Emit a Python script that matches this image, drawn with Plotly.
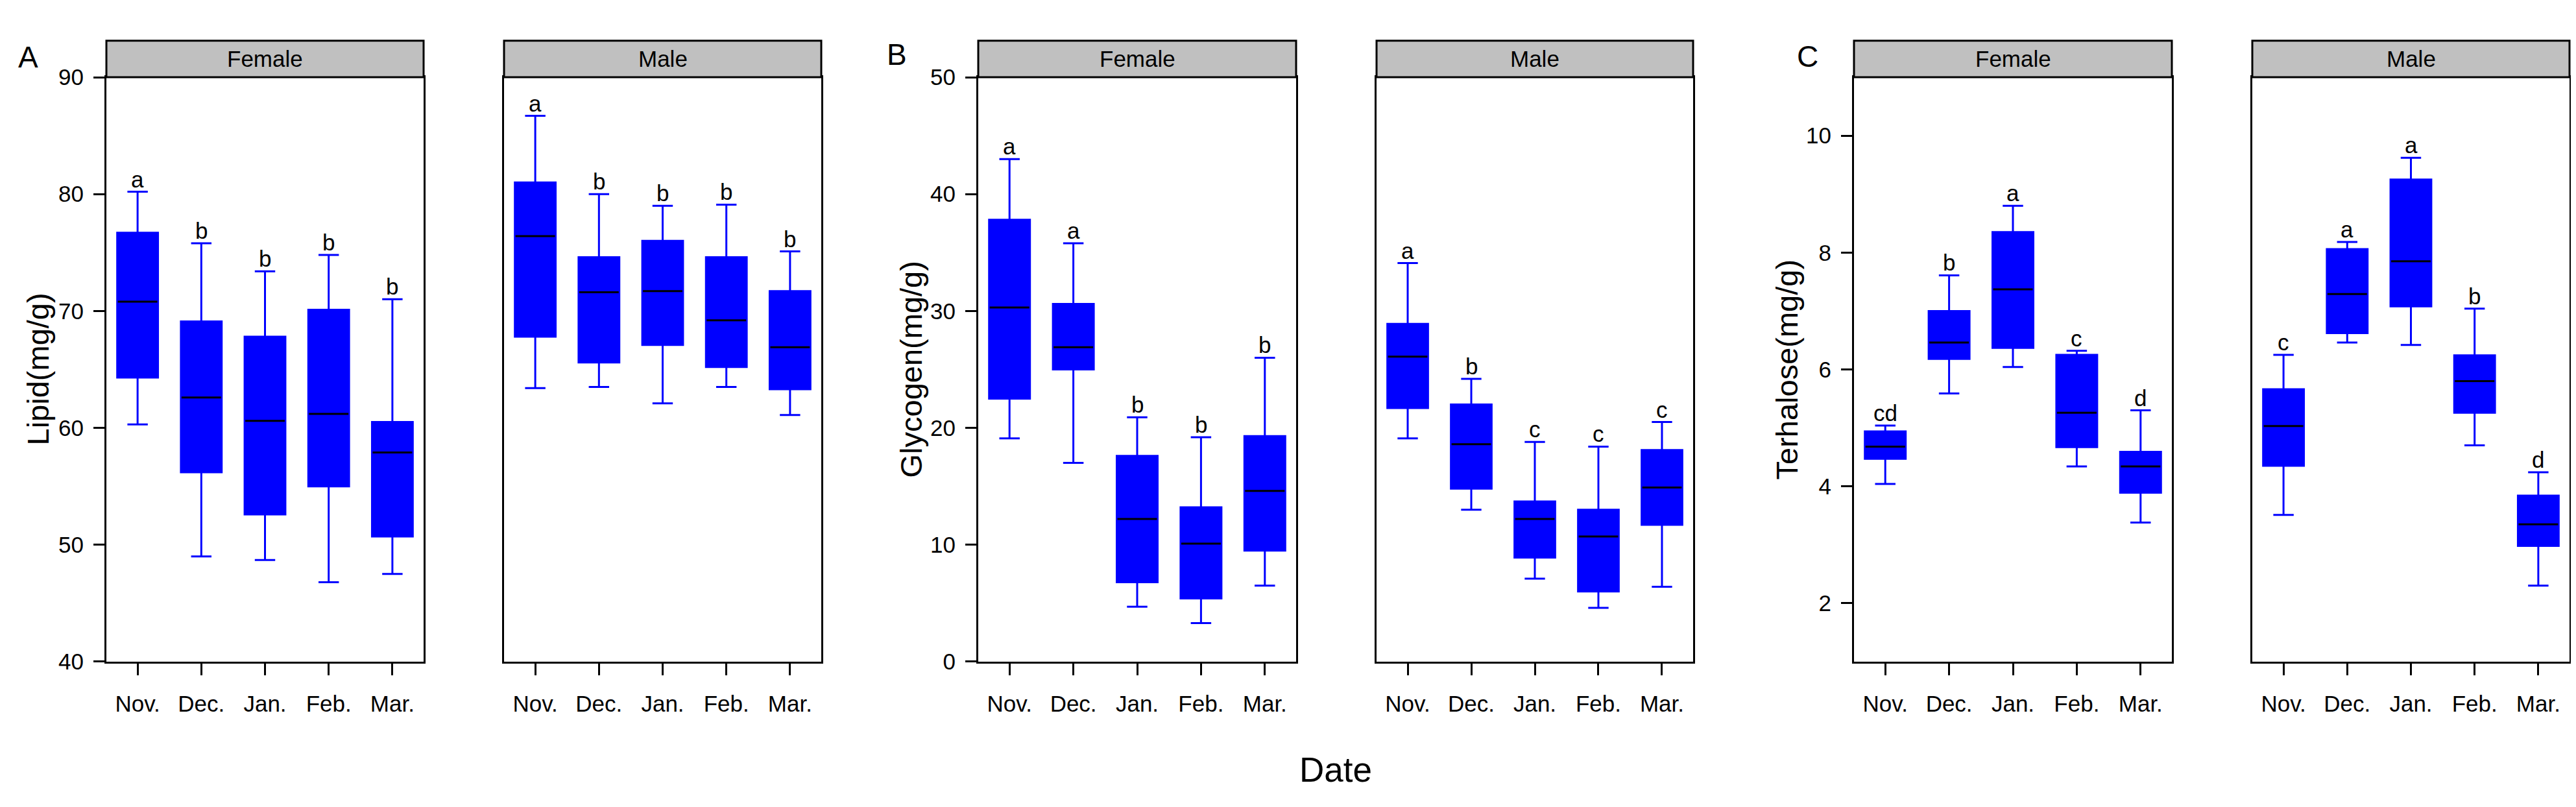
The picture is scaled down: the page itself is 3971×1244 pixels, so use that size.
import plotly.graph_objects as go

W, H = 3971, 1244
months = ["Nov.", "Dec.", "Jan.", "Feb.", "Mar."]

# ---------------- data ----------------
# A: Lipid (mg/g)
lip_f_low = [60.3, 49.0, 48.7, 46.8, 47.5]
lip_f_q1 = [64.3, 56.2, 52.6, 55.0, 50.7]
lip_f_med = [70.8, 62.6, 60.6, 61.2, 57.9]
lip_f_q3 = [76.7, 69.1, 67.8, 70.1, 60.5]
lip_f_high = [80.2, 75.8, 73.4, 74.8, 71.0]
lip_f_let = ["a", "b", "b", "b", "b"]

lip_m_low = [63.4, 63.5, 62.1, 63.5, 61.1]
lip_m_q1 = [67.8, 65.6, 67.1, 65.2, 63.3]
lip_m_med = [76.4, 71.6, 71.7, 69.2, 66.9]
lip_m_q3 = [81.0, 74.6, 76.0, 74.6, 71.7]
lip_m_high = [86.7, 80.0, 79.0, 79.1, 75.1]
lip_m_let = ["a", "b", "b", "b", "b"]

# B: Glycogen (mg/g)
gly_f_low = [19.1, 17.0, 4.7, 3.3, 6.5]
gly_f_q1 = [22.5, 25.0, 6.8, 5.4, 9.5]
gly_f_med = [30.3, 26.9, 12.2, 10.1, 14.6]
gly_f_q3 = [37.8, 30.6, 17.6, 13.2, 19.3]
gly_f_high = [43.0, 35.8, 20.9, 19.2, 26.0]
gly_f_let = ["a", "a", "b", "b", "b"]

gly_m_low = [19.1, 13.0, 7.1, 4.6, 6.4]
gly_m_q1 = [21.7, 14.8, 8.9, 6.0, 11.7]
gly_m_med = [26.1, 18.6, 12.2, 10.7, 14.9]
gly_m_q3 = [28.9, 22.0, 13.7, 13.0, 18.1]
gly_m_high = [34.1, 24.2, 18.8, 18.4, 20.5]
gly_m_let = ["a", "b", "c", "c", "c"]

# C: Terhalose (mg/g)
tre_f_low = [4.04, 5.59, 6.04, 4.34, 3.38]
tre_f_q1 = [4.47, 6.18, 6.37, 4.67, 3.89]
tre_f_med = [4.68, 6.46, 7.37, 5.26, 4.34]
tre_f_q3 = [4.94, 7.00, 8.35, 6.25, 4.59]
tre_f_high = [5.04, 7.61, 8.80, 6.32, 5.30]
tre_f_let = ["cd", "b", "a", "c", "d"]

tre_m_low = [3.51, 6.46, 6.42, 4.70, 2.30]
tre_m_q1 = [4.35, 6.62, 7.08, 5.26, 2.98]
tre_m_med = [5.03, 7.29, 7.85, 5.80, 3.35]
tre_m_q3 = [5.66, 8.06, 9.25, 6.24, 3.84]
tre_m_high = [6.25, 8.18, 9.62, 7.04, 4.24]
tre_m_let = ["c", "a", "a", "b", "d"]

lip_ticks = [40, 50, 60, 70, 80, 90]
gly_ticks = [0, 10, 20, 30, 40, 50]
tre_ticks = [2, 4, 6, 8, 10]

# ---------------- layout / style ----------------
FONT = "Liberation Sans, Arial, sans-serif"
BLUE = "#0000FF"
TOP, BOT = 94, 1024          # plot area (px from top)
STRIP_TOP = 36

panels = [
    dict(x0=156, x1=645, sex="Female", data=(lip_f_low, lip_f_q1, lip_f_med, lip_f_q3, lip_f_high, lip_f_let),
         yr=[40, 90], ticks=lip_ticks, showy=True),
    dict(x0=769, x1=1258, sex="Male", data=(lip_m_low, lip_m_q1, lip_m_med, lip_m_q3, lip_m_high, lip_m_let),
         yr=[40, 90], ticks=lip_ticks, showy=False),
    dict(x0=1500, x1=1990, sex="Female", data=(gly_f_low, gly_f_q1, gly_f_med, gly_f_q3, gly_f_high, gly_f_let),
         yr=[0, 50], ticks=gly_ticks, showy=True),
    dict(x0=2114, x1=2602, sex="Male", data=(gly_m_low, gly_m_q1, gly_m_med, gly_m_q3, gly_m_high, gly_m_let),
         yr=[0, 50], ticks=gly_ticks, showy=False),
    dict(x0=2850, x1=3340, sex="Female", data=(tre_f_low, tre_f_q1, tre_f_med, tre_f_q3, tre_f_high, tre_f_let),
         yr=[1, 11], ticks=tre_ticks, showy=True),
    dict(x0=3464, x1=3953, sex="Male", data=(tre_m_low, tre_m_q1, tre_m_med, tre_m_q3, tre_m_high, tre_m_let),
         yr=[1, 11], ticks=tre_ticks, showy=False),
]

fig = go.Figure()
shapes = []
annotations = []
pos = list(range(len(months)))
BOXW = 0.64

for k, p in enumerate(panels):
    n = "" if k == 0 else str(k + 1)
    xa, ya = "x" + n, "y" + n
    low, q1, med, q3, high, let = p["data"]

    fig.add_trace(go.Box(
        x=pos, q1=q1, median=med, q3=q3, lowerfence=low, upperfence=high,
        xaxis=xa, yaxis=ya, fillcolor=BLUE, line=dict(color=BLUE, width=3),
        width=BOXW, whiskerwidth=0.5, boxpoints=False, showlegend=False,
    ))
    mx, my = [], []
    for i, m in zip(pos, med):
        mx += [i - BOXW / 2 + 0.01, i + BOXW / 2 - 0.01, None]
        my += [m, m, None]
    fig.add_trace(go.Scatter(x=mx, y=my, mode="lines", xaxis=xa, yaxis=ya,
                             line=dict(color="black", width=3), showlegend=False, hoverinfo="skip"))

    for i, t, hv in zip(pos, let, high):
        annotations.append(dict(x=i, y=hv, xref=xa, yref=ya, text=t, showarrow=False,
                                yanchor="bottom", yshift=-2, font=dict(family=FONT, size=35, color="black")))

    xdom = [p["x0"] / W, p["x1"] / W]
    ydom = [1 - BOT / H, 1 - TOP / H]
    fig.layout["xaxis" + n] = dict(
        domain=xdom, anchor=ya, range=[-0.49, 4.49], tickmode="array", tickvals=pos, ticktext=months,
        ticks="outside", ticklen=18, tickwidth=3, tickcolor="black", showline=True, mirror=True,
        linecolor="black", linewidth=3, showgrid=False, zeroline=False, ticklabelstandoff=14,
        tickfont=dict(family=FONT, size=35, color="black"), fixedrange=True)
    fig.layout["yaxis" + n] = dict(
        domain=ydom, anchor=xa, range=p["yr"], tickmode="array", tickvals=p["ticks"],
        ticks="outside" if p["showy"] else "", ticklen=17, tickwidth=3, tickcolor="black",
        showticklabels=p["showy"], showline=True, mirror=True, linecolor="black", linewidth=3,
        showgrid=False, zeroline=False, ticklabelstandoff=8,
        tickfont=dict(family=FONT, size=35, color="black"), fixedrange=True)

    # strip
    shapes.append(dict(type="rect", xref="paper", yref="paper", x0=p["x0"] / W, x1=p["x1"] / W,
                       y0=1 - TOP / H, y1=1 - STRIP_TOP / H, fillcolor="#C0C0C0",
                       line=dict(color="black", width=3), layer="above"))
    annotations.append(dict(x=(p["x0"] + p["x1"]) / 2 / W, y=1 - (TOP + STRIP_TOP) / 2 / H,
                            xref="paper", yref="paper", text=p["sex"], showarrow=False,
                            xanchor="center", yanchor="middle",
                            font=dict(family=FONT, size=35, color="black")))

# y titles
for txt, xc in [("Lipid(mg/g)", 50), ("Glycogen(mg/g)", 1396), ("Terhalose(mg/g)", 2746)]:
    annotations.append(dict(x=xc / W, y=1 - (TOP + BOT) / 2 / H, xref="paper", yref="paper", text=txt,
                            textangle=-90, showarrow=False, xanchor="center", yanchor="middle",
                            font=dict(family=FONT, size=47, color="black")))
# panel letters
for txt, xc, yc in [("A", 35, 62), ("B", 1374, 58), ("C", 2778, 61)]:
    annotations.append(dict(x=xc / W, y=1 - yc / H, xref="paper", yref="paper", text=txt,
                            showarrow=False, xanchor="center", yanchor="middle",
                            font=dict(family=FONT, size=46, color="black")))
# x title
annotations.append(dict(x=2051 / W, y=1 - 1196 / H, xref="paper", yref="paper", text="Date",
                        showarrow=False, xanchor="center", yanchor="middle",
                        font=dict(family=FONT, size=53, color="black")))

fig.update_layout(width=W, height=H, margin=dict(l=0, r=0, t=0, b=0),
                  paper_bgcolor="white", plot_bgcolor="white",
                  shapes=shapes, annotations=annotations, showlegend=False)

fig.write_html("out.html")
